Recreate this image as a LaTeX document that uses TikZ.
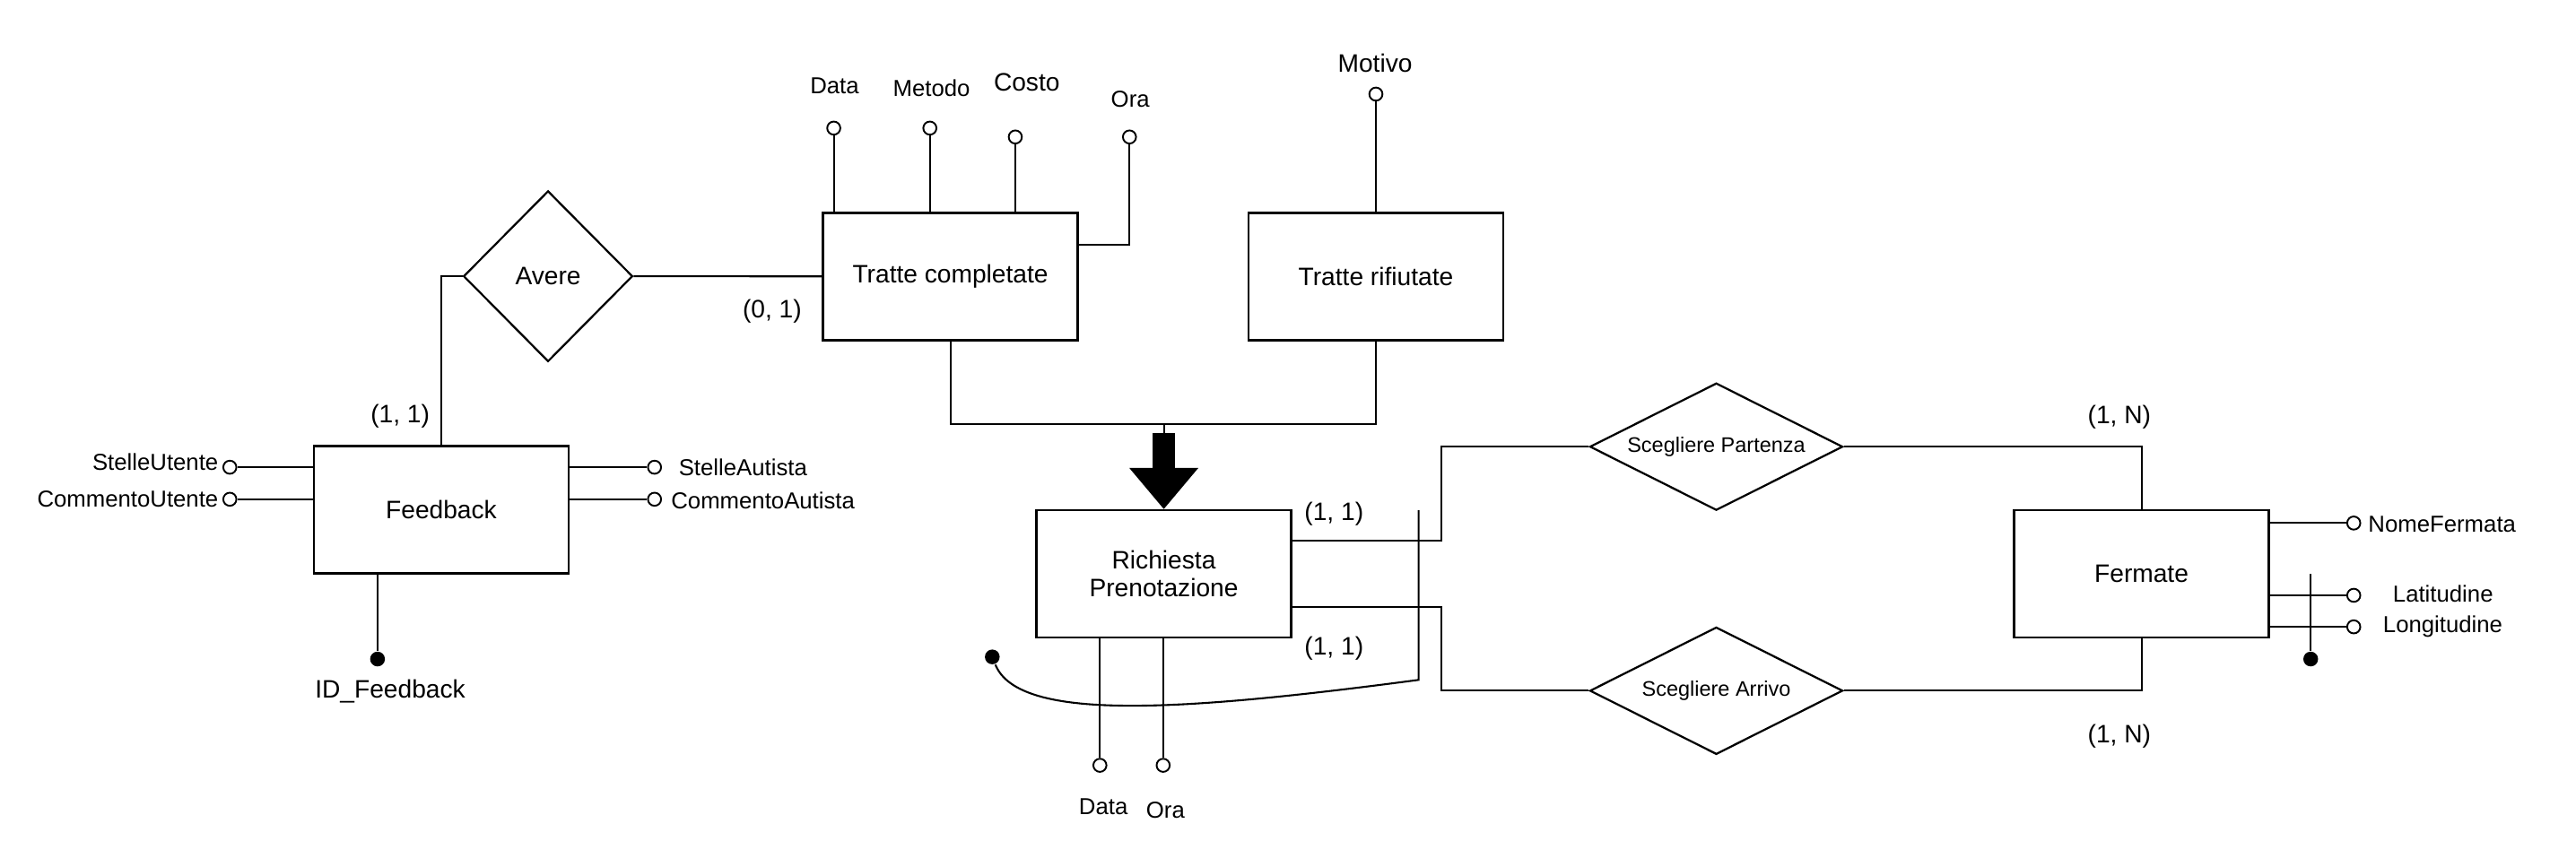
\documentclass[tikz,border=0pt]{standalone}
\usepackage{fontspec}
\setmainfont{Liberation Sans}
\usetikzlibrary{shapes.geometric,arrows.meta}

\begin{document}
\begin{tikzpicture}[x=0.02cm,y=-0.02cm,line width=0.65pt,
  entity/.style={draw,line width=0.8pt,minimum width=3.1cm,minimum height=1.55cm,inner sep=0pt,align=center,font=\fontsize{8.75}{9.5}\selectfont},
  relation/.style={draw,diamond,line width=0.7pt,inner sep=0pt,font=\fontsize{7.3}{9}\selectfont},
  attr/.style={draw,circle,line width=0.6pt,fill=white,inner sep=0pt,minimum size=0.16cm},
  key/.style={circle,fill=black,inner sep=0pt,minimum size=0.18cm},
  lbl/.style={inner sep=0pt,font=\fontsize{8}{9}\selectfont},
  card/.style={inner sep=0pt,anchor=base,font=\fontsize{8.75}{9.5}\selectfont},
  isa/.style={line width=0.272cm,-{Triangle[length=0.5cm,width=0.84cm,line width=0pt]}}]
\useasboundingbox (0,0) rectangle (1568,527.4);

% Entities
\node[entity] (feedback) at (268.6,310.5) {Feedback};
\node[entity] (completate) at (578.5,168.3) {Tratte completate};
\node[entity] (rifiutate) at (837.5,168.3) {Tratte rifiutate};
\node[entity] (richiesta) at (708.4,349.4) {Richiesta\\Prenotazione};
\node[entity] (fermate) at (1303.5,349.4) {Fermate};

% Relationships
\node[relation,minimum width=2.06cm,minimum height=2.08cm,font=\fontsize{8.75}{9.5}\selectfont] (avere) at (333.6,168.2) {Avere};
\node[relation,aspect=2,minimum width=3.08cm,minimum height=1.55cm] (partenza) at (1044.7,272) {Scegliere Partenza};
\node[relation,aspect=2,minimum width=3.08cm,minimum height=1.55cm] (arrivo) at (1044.7,420.6) {Scegliere Arrivo};

% Avere links
\draw (avere.west) -| (feedback.north);
\draw (avere.east) -- (completate.west);
\node[card] (cardFb) at (243.6,257.5) {(1, 1)};
\node[card] (cardTc) at (470,193.8) {(0, 1)};

% Generalization
\coordinate (gen) at (708.4,258.4);
\coordinate (shaft) at (708.4,263.8);
\draw (completate.south) |- (gen) -| (rifiutate.south);
\draw (gen) -- (shaft);
\draw[isa] (shaft) -- (richiesta.north);

% Feedback attributes
\node[attr] (fbStelleU) at (139.9,284.5) {};
\node[attr] (fbCommU) at (139.9,304) {};
\node[attr] (fbStelleA) at (398.4,284.5) {};
\node[attr] (fbCommA) at (398.4,304) {};
\node[key] (fbId) at (229.8,401.3) {};
\draw (feedback.west |- fbStelleU) -- (fbStelleU);
\draw (feedback.west |- fbCommU) -- (fbCommU);
\draw (feedback.east |- fbStelleA) -- (fbStelleA);
\draw (feedback.east |- fbCommA) -- (fbCommA);
\draw (feedback.south -| fbId) -- (fbId);
\node[lbl,anchor=base east] (lStelleU) at (133.4,286.6) {StelleUtente};
\node[lbl,anchor=base east] (lCommU) at (133.4,308.5) {CommentoUtente};
\node[lbl,anchor=base west] (lStelleA) at (412.6,289.4) {StelleAutista};
\node[lbl,anchor=base west] (lCommA) at (408,309.9) {CommentoAutista};
\node[lbl,anchor=base,font=\fontsize{8.75}{9.5}\selectfont] (lFbId) at (237.5,425) {ID\_Feedback};

% Tratte completate attributes
\node[attr] (tcData) at (507.5,78) {};
\node[attr] (tcMetodo) at (566,78) {};
\node[attr] (tcCosto) at (618,83.4) {};
\node[attr] (tcOra) at (687.5,83.4) {};
\draw (completate.north -| tcData) -- (tcData);
\draw (completate.north -| tcMetodo) -- (tcMetodo);
\draw (completate.north -| tcCosto) -- (tcCosto);
\draw (tcOra) |- ([yshift=0.386cm]completate.east);
\node[lbl,anchor=base] (lTcData) at (508,56.8) {Data};
\node[lbl,anchor=base] (lTcMetodo) at (567,58.6) {Metodo};
\node[lbl,anchor=base,font=\fontsize{8.75}{9.5}\selectfont] (lTcCosto) at (625,55.5) {Costo};
\node[lbl,anchor=base] (lTcOra) at (688,65) {Ora};

% Tratte rifiutate attribute
\node[attr] (trMotivo) at (837.5,57.3) {};
\draw (rifiutate.north) -- (trMotivo);
\node[lbl,anchor=base,font=\fontsize{8.75}{9.5}\selectfont] (lTrMotivo) at (837,43.7) {Motivo};

% Richiesta Prenotazione attributes and identifier
\node[attr] (rpData) at (669.5,466) {};
\node[attr] (rpOra) at (708,466) {};
\draw (richiesta.south -| rpData) -- (rpData);
\draw (richiesta.south -| rpOra) -- (rpOra);
\node[lbl,anchor=base] (lRpData) at (671.6,496) {Data};
\node[lbl,anchor=base] (lRpOra) at (709.4,498.3) {Ora};
\coordinate (rpIdTop) at (863.5,310.7);
\coordinate (rpIdBot) at (863.5,414);
\node[key] (rpId) at (604,400) {};
\draw (rpIdTop) -- (rpIdBot) .. controls (720,433) and (620,440) .. (rpId);

% Scegliere links
\draw ([yshift=0.4cm]richiesta.east) -- ++(91,0) |- (partenza.west);
\draw ([yshift=-0.4cm]richiesta.east) -- ++(91,0) |- (arrivo.west);
\draw (partenza.east) -| (fermate.north);
\draw (arrivo.east) -| (fermate.south);
\node[card] (cardRpUp) at (812,316.7) {(1, 1)};
\node[card] (cardRpLo) at (812,398.6) {(1, 1)};
\node[card] (cardFeUp) at (1290,258) {(1, N)};
\node[card] (cardFeLo) at (1290,452.3) {(1, N)};

% Fermate attributes and identifier
\node[attr] (feNome) at (1432.7,318.5) {};
\node[attr] (feLat) at (1432.7,362.5) {};
\node[attr] (feLong) at (1432.7,381.7) {};
\draw (fermate.east |- feNome) -- (feNome);
\draw (fermate.east |- feLat) -- (feLat);
\draw (fermate.east |- feLong) -- (feLong);
\coordinate (feIdTop) at (1406.5,349.5);
\node[key] (feId) at (1406.5,401.3) {};
\draw (feIdTop) -- (feId);
\node[lbl,anchor=base west] (lFeNome) at (1441,324) {NomeFermata};
\node[lbl,anchor=base west] (lFeLat) at (1456,366.7) {Latitudine};
\node[lbl,anchor=base west] (lFeLong) at (1450,385) {Longitudine};

\end{tikzpicture}
\end{document}
